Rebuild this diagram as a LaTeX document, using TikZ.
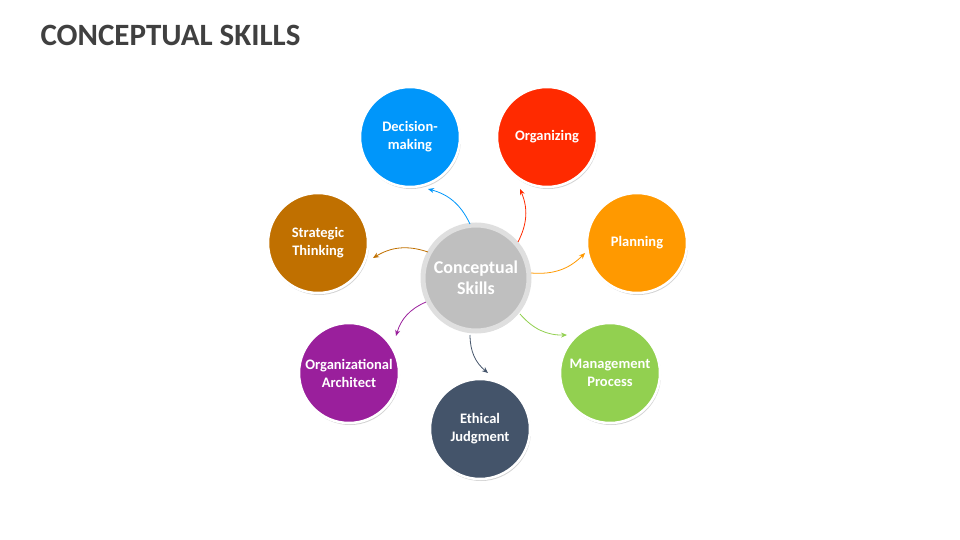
\documentclass[tikz,border=0pt]{standalone}
\usepackage{fontspec}
\setmainfont{Carlito}
\usetikzlibrary{shadows,arrows.meta}
\definecolor{cblue}{HTML}{0096FA}
\definecolor{cred}{HTML}{FF2A00}
\definecolor{corange}{HTML}{FF9900}
\definecolor{cgreen}{HTML}{92D050}
\definecolor{cslate}{HTML}{44546A}
\definecolor{cpurple}{HTML}{9A1F9C}
\definecolor{cbrown}{HTML}{C07000}
\tikzset{
  outer/.style={circle,minimum size=100pt,inner sep=0pt,fill=#1,draw=white,line width=2.5pt,
    drop shadow={shadow xshift=1pt,shadow yshift=-2pt,opacity=0.35},
    text=white,font=\fontsize{14.5}{18}\selectfont\bfseries,align=center},
  con/.style={draw=#1,line width=0.8pt,-{Stealth[length=6pt,width=5pt]}},
}
\begin{document}
\begin{tikzpicture}[x=1pt,y=-1pt]
\useasboundingbox (0,0) rectangle (960,540);
\node[anchor=west,text=black!75,font=\fontsize{31}{36}\selectfont\bfseries] (title) at (37,35) {CONCEPTUAL SKILLS};
\node[circle,minimum size=106pt,inner sep=0pt,fill=gray!50!white,draw=gray!25,line width=5pt,
  drop shadow={shadow xshift=1pt,shadow yshift=-2pt,opacity=0.35},
  text=white,font=\fontsize{18}{21}\selectfont\bfseries,align=center] (c) at (476,278) {Conceptual\\Skills};
\node[outer=cblue] (dm) at (410,137) {Decision-\\making};
\node[outer=cred] (org) at (547,137) {Organizing};
\node[outer=corange] (pl) at (637,243) {Planning};
\node[outer=cgreen] (mp) at (610,373) {Management\\Process};
\node[outer=cslate] (ej) at (480,429) {Ethical\\Judgment};
\node[outer=cpurple] (oa) at (349,373) {Organizational\\Architect};
\node[outer=cbrown] (st) at (318,243) {Strategic\\Thinking};
\coordinate (s1) at (470,224); \coordinate (e1) at (428,189);
\coordinate (s2) at (518,242); \coordinate (e2) at (520,189);
\coordinate (s3) at (531,273); \coordinate (e3) at (585,253);
\coordinate (s4) at (520,314); \coordinate (e4) at (567,335);
\coordinate (s5) at (470,335); \coordinate (e5) at (488,373);
\coordinate (s6) at (426,302); \coordinate (e6) at (396,336);
\coordinate (s7) at (428,252); \coordinate (e7) at (373,258);
\draw[con=cblue] (s1) to[bend right=25] (e1);
\draw[con=cred] (s2) to[bend right=25] (e2);
\draw[con=corange] (s3) to[bend right=25] (e3);
\draw[con=cgreen] (s4) to[bend right=25] (e4);
\draw[con=cslate] (s5) to[bend right=25] (e5);
\draw[con=cpurple] (s6) to[bend right=25] (e6);
\draw[con=cbrown] (s7) to[bend right=25] (e7);
\end{tikzpicture}
\end{document}
